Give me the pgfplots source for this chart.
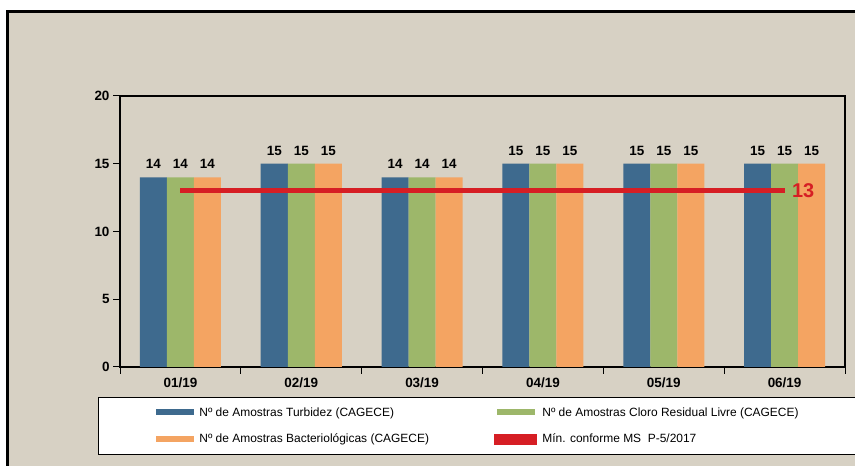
\documentclass[border=0pt]{standalone}
\usepackage{pgfplots}
\pgfplotsset{compat=1.18}
\usepackage{fontspec}
\setmainfont{Liberation Sans}
\definecolor{bgc}{RGB}{215,209,196}
\definecolor{cblue}{RGB}{62,106,142}
\definecolor{cgreen}{RGB}{157,183,106}
\definecolor{corange}{RGB}{244,164,98}
\definecolor{cred}{RGB}{214,30,36}
\begin{document}
\begin{tikzpicture}[x=1bp,y=1bp]
\useasboundingbox (0,0) rectangle (855,466);
\clip (0,0) rectangle (855,466);
\fill[white] (0,0) rectangle (855,466);
\fill[bgc] (7,0) rectangle (855,454);
\draw[line width=3bp] (7,-2) -- (7,454) -- (860,454);
\begin{axis}[
  at={(120bp,99bp)}, anchor=south west,
  width=725bp, height=271bp, scale only axis,
  xmin=-0.5, xmax=5.5, ymin=0, ymax=20,
  xtick={-0.5,0.5,1.5,2.5,3.5,4.5,5.5},
  x tick label as interval,
  xticklabels={01/19,02/19,03/19,04/19,05/19,06/19},
  ytick={0,5,10,15,20},
  xtick pos=bottom, ytick pos=left,
  tick align=outside, major tick length=7bp,
  every tick/.style={black, line width=1bp},
  axis line style={line width=1.6bp},
  tick label style={font=\fontsize{13.5}{15}\selectfont\bfseries},
  /pgf/number format/assume math mode=true,
  legend columns=2,
  legend style={at={(-0.0303,-0.1107)}, anchor=north west,
    draw=black, line width=0.8bp, fill=white,
    inner xsep=58bp, inner ysep=10bp,
    nodes={inner sep=0pt, anchor=west},
    row sep=16bp,
    font=\fontsize{12}{13}\selectfont,
    /tikz/every odd column/.append style={column sep=5bp},
    /tikz/every even column/.append style={column sep=5bp}},
  legend cell align=left,
  every node near coord/.append style={font=\fontsize{13.5}{15}\selectfont\bfseries, black, anchor=south, yshift=5bp},
]
\addplot[ybar, bar width=0.2235, bar shift=-0.2235, fill=cblue, draw=none,
  nodes near coords, every node near coord/.append style={xshift=-27bp},
  legend image code/.code={\fill[cblue] (0bp,-3bp) rectangle (38bp,3bp);}]
  coordinates {(0,14) (1,15) (2,14) (3,15) (4,15) (5,15)};
\addlegendentry{\makebox[290bp][l]{Nº de Amostras Turbidez (CAGECE)}}
\addplot[ybar, bar width=0.2235, bar shift=0, fill=cgreen, draw=none,
  nodes near coords,
  legend image code/.code={\fill[cgreen] (0bp,-3bp) rectangle (38bp,3bp);}]
  coordinates {(0,14) (1,15) (2,14) (3,15) (4,15) (5,15)};
\addlegendentry{\makebox[340bp][l]{Nº de Amostras Cloro Residual Livre (CAGECE)}}
\addplot[ybar, bar width=0.2235, bar shift=0.2235, fill=corange, draw=none,
  nodes near coords, every node near coord/.append style={xshift=27bp},
  legend image code/.code={\fill[corange] (0bp,-3bp) rectangle (38bp,3bp);}]
  coordinates {(0,14) (1,15) (2,14) (3,15) (4,15) (5,15)};
\addlegendentry{\makebox[290bp][l]{Nº de Amostras Bacteriológicas (CAGECE)}}
\addplot[cred, line width=5bp,
  legend image code/.code={\fill[cred] (0bp,-3bp) rectangle (38bp,3bp);}]
  coordinates {(0,13) (5,13)}
  node[pos=1, anchor=west, inner sep=5bp, font=\fontsize{20}{22}\selectfont\bfseries, text=cred] {13};
\addlegendentry{\makebox[340bp][l]{Mín. conforme MS\ \ P-5/2017}}
\end{axis}
\end{tikzpicture}
\end{document}
